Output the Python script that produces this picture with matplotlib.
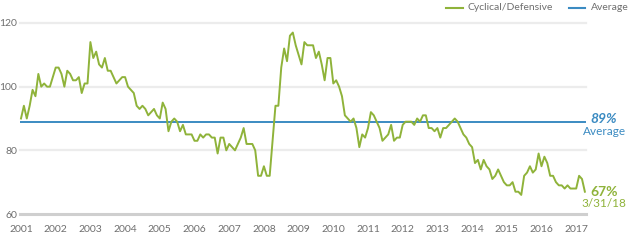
import numpy as np
import matplotlib.pyplot as plt
from matplotlib.lines import Line2D

# Monthly cyclical/defensive ratio (2001 onward)
ratio = [
    90, 94, 90, 94, 99, 97, 104, 100, 101, 100, 100, 103,
    106, 106, 104, 100, 105, 104, 102, 102, 103, 98, 101, 101,
    114, 109, 111, 107, 106, 109, 105, 105, 103, 101, 102, 103,
    103, 100, 99, 98, 94, 93, 94, 93, 91, 92, 93, 91,
    90, 95, 93, 86, 89, 90, 89, 86, 88, 85, 85, 85,
    83, 83, 85, 84, 85, 85, 84, 84, 79, 84, 84, 80,
    82, 81, 80, 82, 84, 87, 82, 82, 82, 80, 72, 72,
    75, 72, 72, 83, 94, 94, 106, 112, 108, 116, 117, 113,
    110, 107, 114, 113, 113, 113, 109, 111, 107, 102, 109, 109,
    101, 102, 100, 97, 91, 90, 89, 90, 87, 81, 85, 84,
    87, 92, 91, 89, 87, 83, 84, 85, 88, 83, 84, 84,
    88, 89, 89, 89, 88, 90, 89, 91, 91, 87, 87, 86,
    87, 84, 87, 87, 88, 89, 90, 89, 87, 85, 84, 82,
    81, 76, 77, 74, 77, 75, 74, 71, 72, 74, 72, 70,
    69, 69, 70, 67, 67, 66, 72, 73, 75, 73, 74, 79,
    75, 78, 76, 72, 72, 70, 69, 69, 68, 69, 68, 68,
    68, 72, 71, 67,
]
average = 89
years = list(range(2001, 2018))
yticks = [60, 80, 100, 120]

green = '#8fb33a'
blue = '#3b8bc2'
grey = '#6f6f6f'

plt.rcParams['font.family'] = ['Lato', 'DejaVu Sans']

x = 2001 + np.arange(len(ratio)) / 12

fig = plt.figure(figsize=(6.3, 2.4), dpi=100)
ax = fig.add_axes([20 / 630, 1 - 214 / 240, 566 / 630, 191 / 240])
ax.set_xlim(2001 - 1 / 34.7, 2001 + 565 / 34.7)
ax.set_ylim(60, 120)

for y in yticks:
    if y == 60:
        ax.axhline(y, color='#cfcfcf', linewidth=2.2, clip_on=False, zorder=1)
    else:
        ax.axhline(y, color='#ececec', linewidth=1.6, clip_on=False, zorder=1)

ax.axhline(average, color=blue, linewidth=1.4, zorder=2)
ax.plot(x, ratio, color=green, linewidth=1.4, zorder=3, clip_on=False)

for s in ax.spines.values():
    s.set_visible(False)
ax.tick_params(length=0, labelsize=7.5, labelcolor=grey)
ax.set_yticks(yticks)
ax.set_xticks(years)
ax.set_xticklabels([str(y) for y in years])
ax.tick_params(axis='y', pad=2)
ax.tick_params(axis='x', pad=8)

# right-side annotations
ax.annotate('89%', xy=(1.0, average), xycoords=('axes fraction', 'data'),
            xytext=(13, 2), textcoords='offset points', ha='center', va='center',
            color=blue, fontsize=10, fontweight='bold', fontstyle='italic')
ax.annotate('Average', xy=(1.0, average), xycoords=('axes fraction', 'data'),
            xytext=(13, -7.2), textcoords='offset points', ha='center', va='center',
            color=blue, fontsize=8.5)
ax.annotate('67%', xy=(1.0, ratio[-1]), xycoords=('axes fraction', 'data'),
            xytext=(13, 0), textcoords='offset points', ha='center', va='center',
            color=green, fontsize=10, fontweight='bold')
ax.annotate('3/31/18', xy=(1.0, ratio[-1]), xycoords=('axes fraction', 'data'),
            xytext=(13, -8.8), textcoords='offset points', ha='center', va='center',
            color=green, fontsize=8.5)

# legend along the top
fig.add_artist(Line2D([446 / 630, 463 / 630], [1 - 8 / 240] * 2, color=green, linewidth=1.5))
fig.text(467 / 630, 1 - 8 / 240, 'Cyclical/Defensive', color=grey, fontsize=7.5, va='center')
fig.add_artist(Line2D([569 / 630, 585 / 630], [1 - 8 / 240] * 2, color=blue, linewidth=1.5))
fig.text(591 / 630, 1 - 8 / 240, 'Average', color=grey, fontsize=7.5, va='center')

plt.savefig('out.png', dpi=100)
